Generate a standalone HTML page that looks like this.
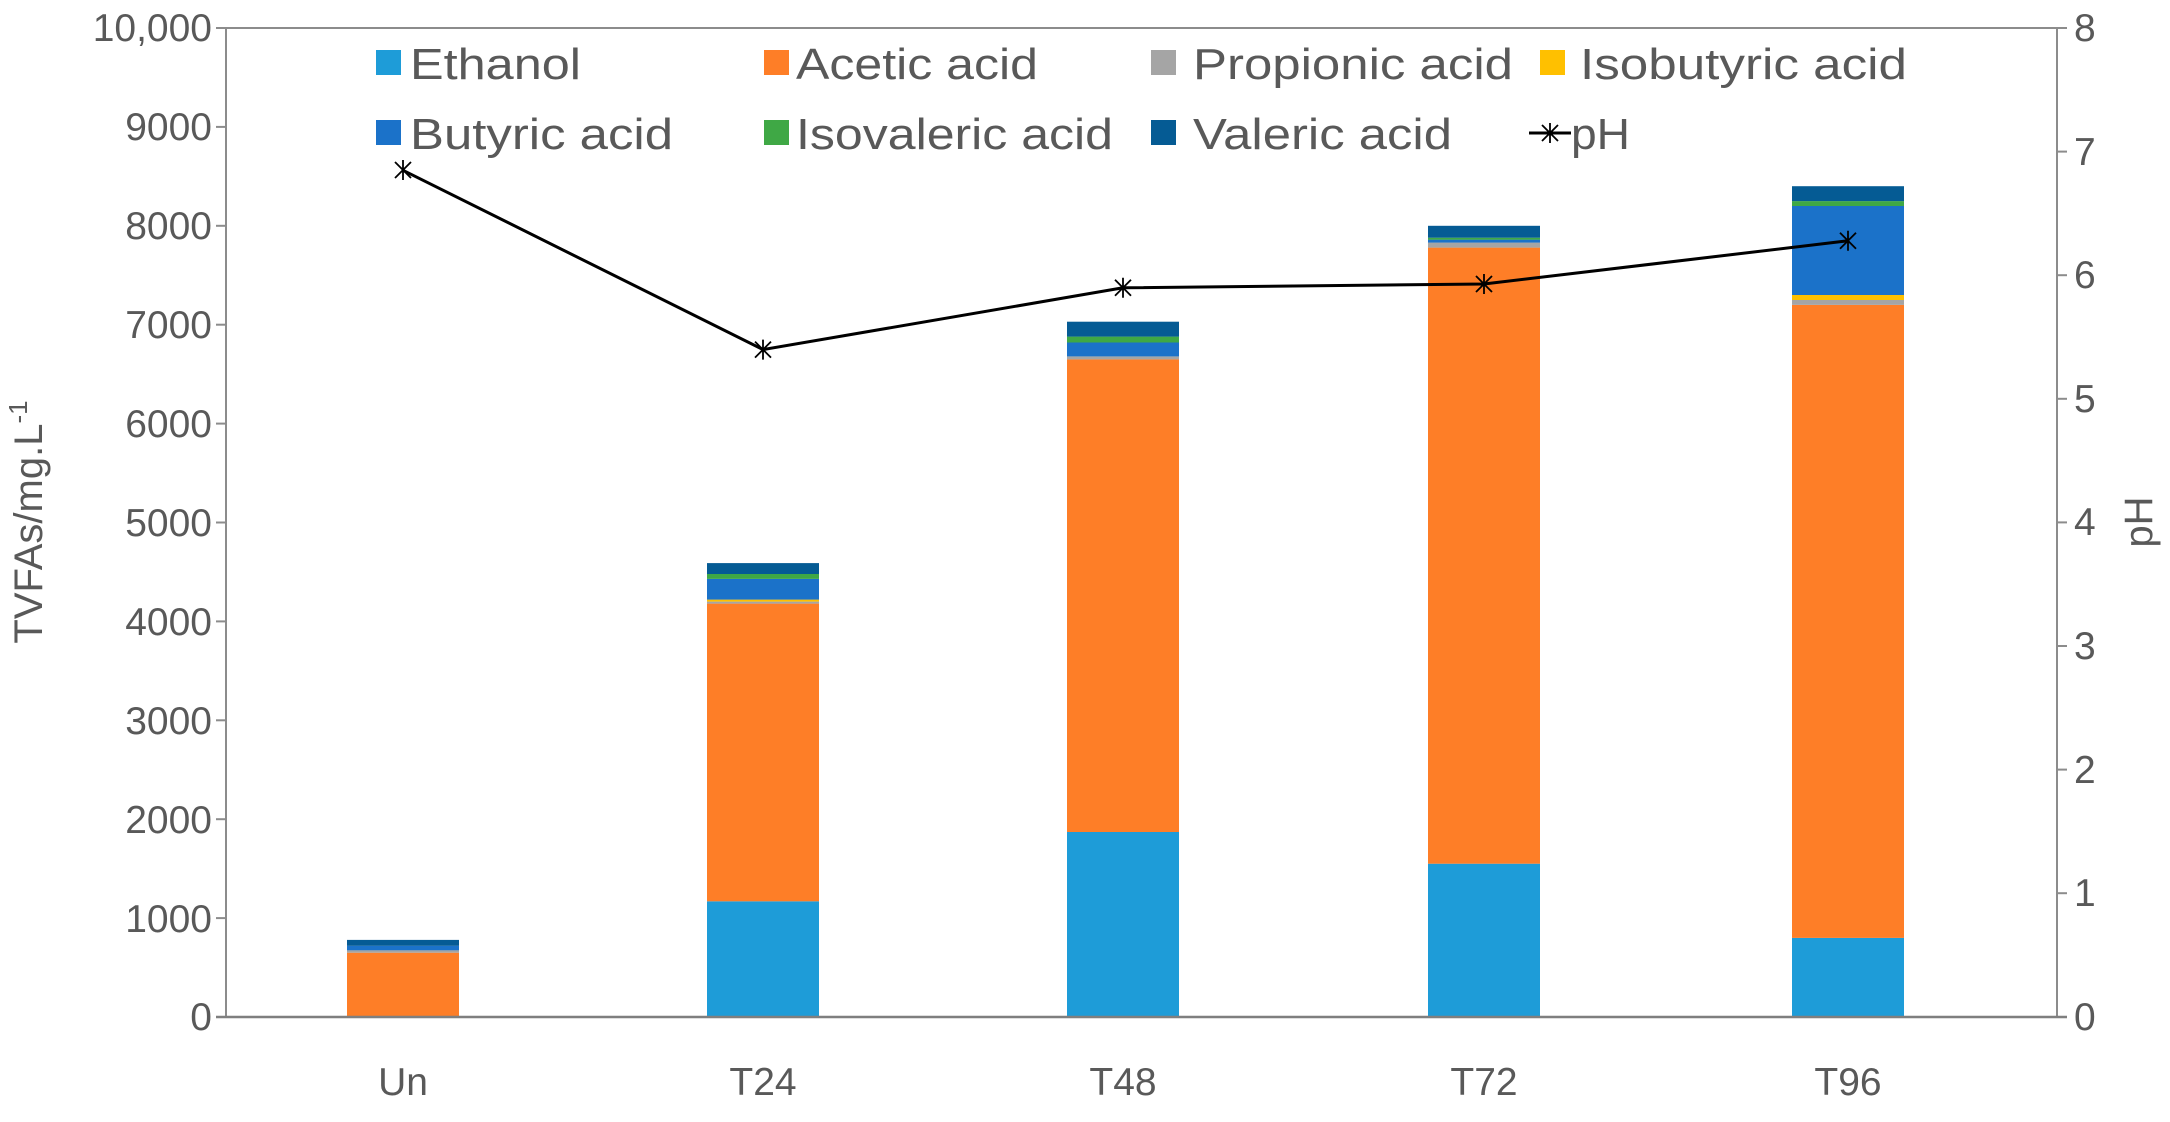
<!DOCTYPE html>
<html><head><meta charset="utf-8"><style>html,body{margin:0;padding:0;background:#fff}svg{display:block}</style></head>
<body>
<svg width="2170" height="1122" viewBox="0 0 2170 1122" xmlns="http://www.w3.org/2000/svg" font-family="'Liberation Sans', sans-serif" fill="#595959">
<g stroke="#8c8c8c" stroke-width="2" fill="none">
<line x1="226" y1="28" x2="226" y2="1017"/>
<line x1="2057" y1="28" x2="2057" y2="1017"/>
<line x1="216" y1="28" x2="2057" y2="28"/>
<line x1="216" y1="126.9" x2="226" y2="126.9"/>
<line x1="216" y1="225.8" x2="226" y2="225.8"/>
<line x1="216" y1="324.7" x2="226" y2="324.7"/>
<line x1="216" y1="423.6" x2="226" y2="423.6"/>
<line x1="216" y1="522.5" x2="226" y2="522.5"/>
<line x1="216" y1="621.4" x2="226" y2="621.4"/>
<line x1="216" y1="720.3" x2="226" y2="720.3"/>
<line x1="216" y1="819.2" x2="226" y2="819.2"/>
<line x1="216" y1="918.1" x2="226" y2="918.1"/>
<line x1="2057" y1="28" x2="2067" y2="28"/>
<line x1="2057" y1="151.6" x2="2067" y2="151.6"/>
<line x1="2057" y1="275.2" x2="2067" y2="275.2"/>
<line x1="2057" y1="398.8" x2="2067" y2="398.8"/>
<line x1="2057" y1="522.4" x2="2067" y2="522.4"/>
<line x1="2057" y1="646" x2="2067" y2="646"/>
<line x1="2057" y1="769.6" x2="2067" y2="769.6"/>
<line x1="2057" y1="893.2" x2="2067" y2="893.2"/>
</g>
<g>
<rect x="347" y="952.7" width="112" height="64.3" fill="#fe7e27"/>
<rect x="347" y="950.2" width="112" height="2.5" fill="#a5a5a5"/>
<rect x="347" y="945.8" width="112" height="4.5" fill="#1b72c9"/>
<rect x="347" y="939.9" width="112" height="5.9" fill="#055b94"/>

<rect x="707" y="901.3" width="112" height="115.7" fill="#1e9cd8"/>
<rect x="707" y="603.6" width="112" height="297.7" fill="#fe7e27"/>
<rect x="707" y="601.6" width="112" height="2" fill="#a5a5a5"/>
<rect x="707" y="599.6" width="112" height="2" fill="#ffc000"/>
<rect x="707" y="578.9" width="112" height="20.7" fill="#1b72c9"/>
<rect x="707" y="574" width="112" height="4.9" fill="#3fa845"/>
<rect x="707" y="563.1" width="112" height="10.9" fill="#055b94"/>

<rect x="1067" y="832" width="112" height="185" fill="#1e9cd8"/>
<rect x="1067" y="359.3" width="112" height="472.7" fill="#fe7e27"/>
<rect x="1067" y="356.4" width="112" height="3" fill="#a5a5a5"/>
<rect x="1067" y="342.5" width="112" height="13.9" fill="#1b72c9"/>
<rect x="1067" y="336.6" width="112" height="5.9" fill="#3fa845"/>
<rect x="1067" y="321.7" width="112" height="14.9" fill="#055b94"/>

<rect x="1428" y="863.7" width="112" height="153.3" fill="#1e9cd8"/>
<rect x="1428" y="247.6" width="112" height="616.1" fill="#fe7e27"/>
<rect x="1428" y="242.6" width="112" height="5" fill="#a5a5a5"/>
<rect x="1428" y="239.6" width="112" height="3" fill="#1b72c9"/>
<rect x="1428" y="237.7" width="112" height="2" fill="#3fa845"/>
<rect x="1428" y="225.8" width="112" height="11.9" fill="#055b94"/>

<rect x="1792" y="937.9" width="112" height="79.1" fill="#1e9cd8"/>
<rect x="1792" y="304.9" width="112" height="633" fill="#fe7e27"/>
<rect x="1792" y="300" width="112" height="4.9" fill="#a5a5a5"/>
<rect x="1792" y="295" width="112" height="5" fill="#ffc000"/>
<rect x="1792" y="206" width="112" height="89" fill="#1b72c9"/>
<rect x="1792" y="201.1" width="112" height="4.9" fill="#3fa845"/>
<rect x="1792" y="186.2" width="112" height="14.9" fill="#055b94"/>
</g>
<line x1="216" y1="1017" x2="2067" y2="1017" stroke="#7f7f7f" stroke-width="2.5"/>
<polyline points="403,170.3 763,349.6 1123,287.8 1484,284 1848,240.8" fill="none" stroke="#000" stroke-width="3"/>
<g stroke="#000" stroke-width="1.8">
<path d="M395,162l16,16M395,178l16,-16M403,160v20"/>
<path d="M755,341.6l16,16M755,357.6l16,-16M763,339.6v20"/>
<path d="M1115,279.8l16,16M1115,295.8l16,-16M1123,277.8v20"/>
<path d="M1476,276l16,16M1476,292l16,-16M1484,274v20"/>
<path d="M1840,232.8l16,16M1840,248.8l16,-16M1848,230.8v20"/>
</g>
<g font-size="39" text-anchor="end">
<text x="212" y="41">10,000</text>
<text x="212" y="140">9000</text>
<text x="212" y="239">8000</text>
<text x="212" y="338">7000</text>
<text x="212" y="437">6000</text>
<text x="212" y="536">5000</text>
<text x="212" y="635">4000</text>
<text x="212" y="734">3000</text>
<text x="212" y="833">2000</text>
<text x="212" y="932">1000</text>
<text x="212" y="1030">0</text>
</g>
<g font-size="39">
<text x="2074" y="41">8</text>
<text x="2074" y="165">7</text>
<text x="2074" y="288">6</text>
<text x="2074" y="412">5</text>
<text x="2074" y="535">4</text>
<text x="2074" y="659">3</text>
<text x="2074" y="783">2</text>
<text x="2074" y="906">1</text>
<text x="2074" y="1030">0</text>
</g>
<g font-size="39" text-anchor="middle">
<text x="403" y="1095">Un</text>
<text x="763" y="1095">T24</text>
<text x="1123" y="1095">T48</text>
<text x="1484" y="1095">T72</text>
<text x="1848" y="1095">T96</text>
</g>
<text transform="translate(42,522) rotate(-90)" font-size="40" text-anchor="middle">TVFAs/mg.L<tspan font-size="26" dy="-15">-1</tspan></text>
<text transform="translate(2152,522) rotate(-90)" font-size="40" text-anchor="middle">pH</text>
<g font-size="44">
<rect x="376" y="50" width="25" height="25" fill="#1e9cd8"/><text x="410" y="79" textLength="171" lengthAdjust="spacingAndGlyphs">Ethanol</text>
<rect x="764" y="50" width="25" height="25" fill="#fe7e27"/><text x="796" y="79" textLength="242" lengthAdjust="spacingAndGlyphs">Acetic acid</text>
<rect x="1151" y="50" width="25" height="25" fill="#a5a5a5"/><text x="1193" y="79" textLength="320" lengthAdjust="spacingAndGlyphs">Propionic acid</text>
<rect x="1540" y="50" width="25" height="25" fill="#ffc000"/><text x="1580" y="79" textLength="327" lengthAdjust="spacingAndGlyphs">Isobutyric acid</text>
<rect x="376" y="120" width="25" height="25" fill="#1b72c9"/><text x="410" y="149" textLength="263" lengthAdjust="spacingAndGlyphs">Butyric acid</text>
<rect x="764" y="120" width="25" height="25" fill="#3fa845"/><text x="796" y="149" textLength="317" lengthAdjust="spacingAndGlyphs">Isovaleric acid</text>
<rect x="1151" y="120" width="25" height="25" fill="#055b94"/><text x="1193" y="149" textLength="259" lengthAdjust="spacingAndGlyphs">Valeric acid</text>
<line x1="1529" y1="133" x2="1571" y2="133" stroke="#000" stroke-width="3"/>
<path d="M1542,125l16,16M1542,141l16,-16M1550,123v20" stroke="#000" stroke-width="1.8"/>
<text x="1571" y="149" textLength="59" lengthAdjust="spacingAndGlyphs">pH</text>
</g>
</svg>
</body></html>
